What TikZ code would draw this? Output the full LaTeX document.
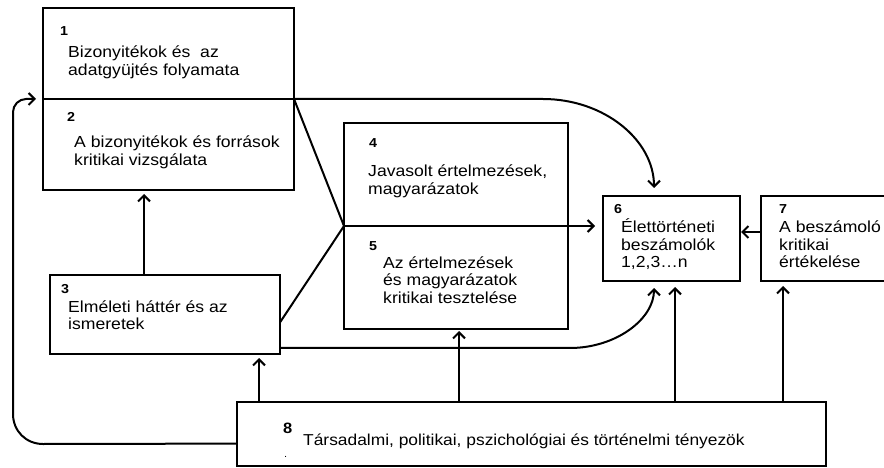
\documentclass[tikz,border=0pt]{standalone}
\usepackage{fontspec}
\setmainfont{Liberation Sans}[FakeStretch=1.1]
\usetikzlibrary{arrows.meta,calc}
\newcommand{\mlines}[1]{\vtop{\halign{##\hfil\cr#1\crcr}}}
\begin{document}
\begin{tikzpicture}[x=1pt,y=-1pt,
  box/.style={draw,line width=2.1pt,rectangle,inner sep=0pt,outer sep=0pt,anchor=north west},
  txt/.style={anchor=base west,inner sep=0pt,font=\fontsize{16}{17.5}\selectfont},
  num/.style={anchor=base west,inner sep=0pt,font=\fontsize{13}{13}\selectfont\bfseries},
  conn/.style={line width=2pt},
  arr/.style={conn,-{Straight Barb[length=6pt,width=12pt,line width=2pt]}}
]
\useasboundingbox (0,0) rectangle (884,468);
% boxes
\node[box,minimum width=251pt,minimum height=91pt] (b1) at (43,8) {};
\node[box,minimum width=251pt,minimum height=91pt] (b2) at (43,99) {};
\node[box,minimum width=230pt,minimum height=79pt] (b3) at (50,275) {};
\node[box,minimum width=224pt,minimum height=103pt] (b4) at (344,123) {};
\node[box,minimum width=224pt,minimum height=103pt] (b5) at (344,226) {};
\node[box,minimum width=137pt,minimum height=85pt] (b6) at (603,196) {};
\node[box,minimum width=140pt,minimum height=85pt] (b7) at (761,196) {};
\node[box,minimum width=589pt,minimum height=64pt] (b8) at (237,402) {};
% texts
\node[num] (n1) at (60,36) {1};
\node[txt] (t1) at (68,58) {\mlines{Bizonyitékok és\ \ az\cr adatgyüjtés folyamata}};
\node[num] (n2) at (67,122) {2};
\node[txt] (t2) at (74,148) {\mlines{A bizonyitékok és források\cr kritikai vizsgálata}};
\node[num] (n3) at (61,293) {3};
\node[txt] (t3) at (68,312) {\mlines{Elméleti háttér és az\cr ismeretek}};
\node[num] (n4) at (369,148) {4};
\node[txt] (t4) at (368,177) {\mlines{Javasolt értelmezések,\cr magyarázatok}};
\node[num] (n5) at (369,250) {5};
\node[txt] (t5) at (383,268) {\mlines{Az értelmezések\cr és magyarázatok\cr kritikai tesztelése}};
\node[num] (n6) at (614,214) {6};
\node[txt] (t6) at (621,233) {\mlines{Élettörténeti\cr beszámolók\cr 1,2,3…n}};
\node[num] (n7) at (779,214) {7};
\node[txt] (t7) at (779,233) {\mlines{A beszámoló\cr kritikai\cr értékelése}};
\node[num,font=\fontsize{15}{15}\selectfont\bfseries] (n8) at (283,433) {8};
\node[txt,font=\fontsize{15.8}{18}\selectfont] (t8) at (303,445) {Társadalmi, politikai, pszichológiai és történelmi tényezök};
\node[num,font=\fontsize{10}{10}\selectfont] (d8) at (284,457) {.};
% connectors
\coordinate (J) at (b5.north west);
\draw[conn] (b1.south east) -- (J);
\coordinate (s3a) at ($(b3.north east)!0.6!(b3.south east)$);
\draw[conn] (s3a) -- (J);
\draw[arr,shorten >=8pt] (J) -- (J -| b6.west);
\draw[arr] (b1.south east) -- ($(b1.south east)+(249,0)$)
  .. controls ($(b1.south east)+(310,0)$) and ($(b6.north west)+(51,-56)$)
  .. ($(b6.north west)+(51,-8)$);
\coordinate (s3b) at ($(b3.north east)!0.924!(b3.south east)$);
\draw[arr] (s3b) -- (s3b -| {$(b6.south west)+(-33,0)$})
  .. controls (s3b -| {$(b6.south west)+(13,0)$}) and ($(b6.south west)+(51,38)$)
  .. ($(b6.south west)+(51,7)$);
% arrows from box 8 and box 3
\coordinate (p1) at ($(b8.north west)+(22,0)$);
\draw[arr,shorten >=4pt] (p1) -- (p1 |- b3.south);
\coordinate (p2) at ($(b8.north west)+(222,0)$);
\draw[arr,shorten >=2pt] (p2) -- (p2 |- b5.south);
\coordinate (p3) at ($(b8.north west)+(438,0)$);
\draw[arr,shorten >=6pt] (p3) -- (p3 |- b6.south);
\coordinate (p4) at ($(b8.north west)+(546,0)$);
\draw[arr,shorten >=5pt] (p4) -- (p4 |- b7.south);
\coordinate (p5) at ($(b3.north west)+(94,0)$);
\draw[arr,shorten >=4pt] (p5) -- (p5 |- b2.south);
\coordinate (p6) at ($(b7.north west)+(0,36)$);
\draw[arr,shorten >=1pt] (p6) -- (p6 -| b6.east);
% feedback loop
\coordinate (l8) at ($(b8.north west)!0.65!(b8.south west)$);
\coordinate (lb) at (13,444);
\coordinate (lt) at (13,99);
\draw[arr,shorten >=7pt] (l8) -- ($(lb)+(30,0)$)
  .. controls ($(lb)+(13,0)$) and ($(lb)+(0,-13)$) .. ($(lb)+(0,-30)$)
  -- ($(lt)+(0,13)$)
  .. controls ($(lt)+(0,6)$) and ($(lt)+(6,0)$) .. ($(lt)+(13,0)$)
  -- (b2.north west);
\end{tikzpicture}
\end{document}
